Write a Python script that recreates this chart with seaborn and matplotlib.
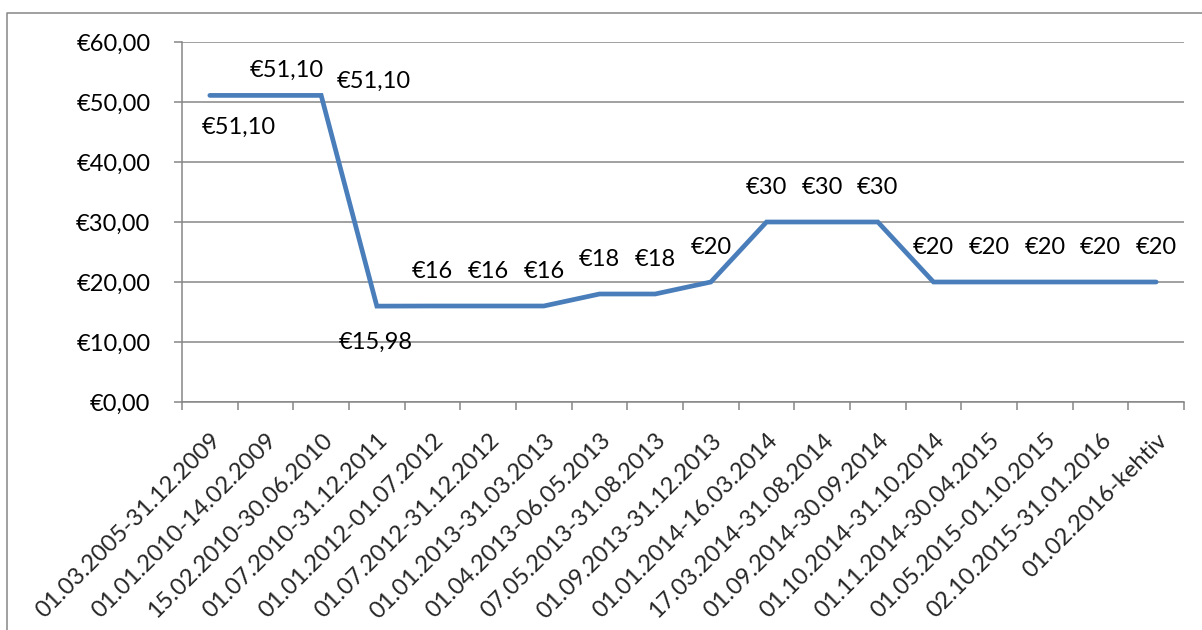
import matplotlib
matplotlib.use("Agg")
import matplotlib.pyplot as plt
import seaborn as sns
import pandas as pd
from matplotlib.lines import Line2D
from matplotlib.ticker import FixedLocator, FuncFormatter

categories = [
    "01.03.2005-31.12.2009", "01.01.2010-14.02.2009", "15.02.2010-30.06.2010",
    "01.07.2010-31.12.2011", "01.01.2012-01.07.2012", "01.07.2012-31.12.2012",
    "01.01.2013-31.03.2013", "01.04.2013-06.05.2013", "07.05.2013-31.08.2013",
    "01.09.2013-31.12.2013", "01.01.2014-16.03.2014", "17.03.2014-31.08.2014",
    "01.09.2014-30.09.2014", "01.10.2014-31.10.2014", "01.11.2014-30.04.2015",
    "01.05.2015-01.10.2015", "02.10.2015-31.01.2016", "01.02.2016-kehtiv",
]
prices = [51.10, 51.10, 51.10, 15.98, 16, 16, 16, 18, 18, 20, 30, 30, 30, 20, 20, 20, 20, 20]
y_ticks = [0, 10, 20, 30, 40, 50, 60]

sns.set_style("white")
plt.rcParams["font.family"] = ["Lato", "DejaVu Sans"]

GRAY = "#868686"
BLUE = "#4A7EBB"
FS = 17

fig = plt.figure(figsize=(12.02, 6.30), dpi=100)
ax = fig.add_axes([182 / 1202, 1 - 402 / 630, (1184 - 182) / 1202, (402 - 42) / 630])

df = pd.DataFrame({"period": categories, "price": prices})
sns.lineplot(data=df, x="period", y="price", sort=False, ax=ax, color=BLUE,
             linewidth=3.4, solid_capstyle="round", solid_joinstyle="miter")

ax.set_xlim(-0.5, len(categories) - 0.5)
ax.set_ylim(0, 60)
ax.set_xlabel("")
ax.set_ylabel("")

# y axis
ax.yaxis.set_major_locator(FixedLocator(y_ticks))
ax.yaxis.set_major_formatter(FuncFormatter(lambda v, p: "€" + f"{v:.2f}".replace(".", ",")))
ax.tick_params(axis="y", which="major", length=8 * 0.72, width=1.1, color=GRAY,
               pad=17, labelsize=FS, labelcolor="black", left=True)
ax.grid(axis="y", color=GRAY, linewidth=1.1)
ax.set_axisbelow(True)

# x axis: labels at categories, tick marks at boundaries
ax.set_xticks(range(len(categories)))
ax.set_xticklabels(categories, rotation=45, ha="right", va="top",
                   rotation_mode="anchor", fontsize=FS)
ax.tick_params(axis="x", which="major", length=0, pad=20)
ax.set_xticks([i - 0.5 for i in range(len(categories) + 1)], minor=True)
ax.tick_params(axis="x", which="minor", length=8 * 0.72, width=1.1, color=GRAY,
               bottom=True)

for side in ["top", "right"]:
    ax.spines[side].set_visible(False)
for side in ["left", "bottom"]:
    ax.spines[side].set_color(GRAY)
    ax.spines[side].set_linewidth(1.1)

# data labels
def fmt(v):
    if abs(v - round(v)) < 1e-9:
        return f"€{int(round(v))}"
    return "€" + f"{v:.2f}".replace(".", ",")

offsets = {0: (29, -32), 1: (21, 25), 2: (53, 14), 3: (-1, -36)}
for i, v in enumerate(prices):
    dx, dy = offsets.get(i, (0, 34))
    ax.annotate(fmt(v), (i, v), xytext=(dx, dy), textcoords="offset pixels",
                ha="center", va="center", fontsize=FS, color="black")

# outer chart frame
fig.add_artist(Line2D([7 / 1202, 7 / 1202, 1.01], [-0.01, 1 - 13 / 630, 1 - 13 / 630],
                      transform=fig.transFigure, color=GRAY, linewidth=1.1))

fig.savefig("out.png", dpi=100)
